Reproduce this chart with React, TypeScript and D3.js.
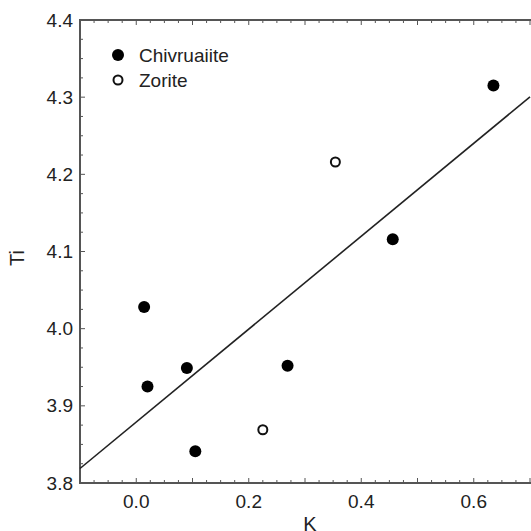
import React, { useEffect, useRef } from "react";
import * as d3 from "d3";

// Chivruaiite (filled) and Zorite (open) points
const chivK = [0.014, 0.02, 0.09, 0.105, 0.269, 0.456, 0.635];
const chivTi = [4.028, 3.925, 3.949, 3.841, 3.952, 4.116, 4.315];
const zorK = [0.225, 0.354];
const zorTi = [3.869, 4.216];

// regression line Ti = a + b*K
const fitIntercept = 3.879;
const fitSlope = 0.602;

const xTicks = [0.0, 0.2, 0.4, 0.6];
const yTicks = [3.8, 3.9, 4.0, 4.1, 4.2, 4.3, 4.4];
const legendLabels = ["Chivruaiite", "Zorite"];

function drawChart(container: SVGSVGElement) {
  var width = 531,
    height = 531;
  var left = 80,
    right = 530,
    top = 20,
    bottom = 483;
  var ink = "#222222",
    axisColor = "#555555",
    font = "'Liberation Sans', Arial, sans-serif";

  var svg = d3.select(container);
  svg.selectAll("*").remove();
  svg.attr("width", width).attr("height", height);

  var x = d3.scaleLinear().domain([-0.1, 0.7]).range([left, right]);
  var y = d3.scaleLinear().domain([3.8, 4.4]).range([bottom, top]);

  var plot = svg.append("g");

  // minor tick values every 0.025
  var xMinor = d3.range(0, 33).map((i) => -0.1 + i * 0.025);
  var yMinor = d3.range(0, 25).map((i) => 3.8 + i * 0.025);

  // bottom ticks (inward)
  plot
    .selectAll(".xb")
    .data(xMinor)
    .enter()
    .append("line")
    .attr("x1", (d) => x(d))
    .attr("x2", (d) => x(d))
    .attr("y1", bottom)
    .attr("y2", (d, i) => bottom - (i % 4 === 0 ? 5 : 3))
    .style("stroke", axisColor)
    .style("stroke-width", "1px");

  // top ticks (inward)
  plot
    .selectAll(".xt")
    .data(xMinor)
    .enter()
    .append("line")
    .attr("x1", (d) => x(d))
    .attr("x2", (d) => x(d))
    .attr("y1", top)
    .attr("y2", (d, i) => top + (i % 4 === 0 ? 5 : 3))
    .style("stroke", axisColor)
    .style("stroke-width", "1px");

  // left ticks (inward)
  plot
    .selectAll(".yl")
    .data(yMinor)
    .enter()
    .append("line")
    .attr("x1", left)
    .attr("x2", (d, i) => left + (i % 4 === 0 ? 5 : 3))
    .attr("y1", (d) => y(d))
    .attr("y2", (d) => y(d))
    .style("stroke", axisColor)
    .style("stroke-width", "1px");

  // frame (right side falls outside the window)
  plot
    .append("path")
    .attr("d", `M${right + 3},${top}H${left}V${bottom}H${right + 3}`)
    .style("fill", "none")
    .style("stroke", axisColor)
    .style("stroke-width", "2px");

  // tick labels
  svg
    .selectAll(".xl")
    .data(xTicks)
    .enter()
    .append("text")
    .attr("x", (d) => x(d))
    .attr("y", bottom + 25)
    .attr("text-anchor", "middle")
    .style("font-family", font)
    .style("font-size", "19px")
    .style("fill", ink)
    .text((d) => d3.format(".1f")(d));

  svg
    .selectAll(".yl2")
    .data(yTicks)
    .enter()
    .append("text")
    .attr("x", left - 7)
    .attr("y", (d) => y(d))
    .attr("dy", "0.35em")
    .attr("text-anchor", "end")
    .style("font-family", font)
    .style("font-size", "19px")
    .style("fill", ink)
    .text((d) => d3.format(".1f")(d));

  // axis titles
  svg
    .append("text")
    .attr("x", 310)
    .attr("y", 531)
    .attr("text-anchor", "middle")
    .style("font-family", font)
    .style("font-size", "20px")
    .style("fill", ink)
    .text("K");

  svg
    .append("text")
    .attr("transform", "translate(24,258) rotate(-90)")
    .attr("text-anchor", "middle")
    .style("font-family", font)
    .style("font-size", "20px")
    .style("fill", ink)
    .text("Ti");

  // regression line
  var lineX = [-0.1, 0.7];
  svg
    .append("path")
    .attr(
      "d",
      d3
        .line<number>()
        .x((d) => x(d))
        .y((d) => y(fitIntercept + fitSlope * d))(lineX)
    )
    .style("fill", "none")
    .style("stroke", "#222222")
    .style("stroke-width", "1.6px");

  // filled points
  svg
    .selectAll(".chiv")
    .data(chivK)
    .enter()
    .append("circle")
    .attr("cx", (d) => x(d))
    .attr("cy", (d, i) => y(chivTi[i]))
    .attr("r", 6)
    .style("fill", "#000000");

  // open points
  svg
    .selectAll(".zor")
    .data(zorK)
    .enter()
    .append("circle")
    .attr("cx", (d) => x(d))
    .attr("cy", (d, i) => y(zorTi[i]))
    .attr("r", 4.5)
    .style("fill", "#ffffff")
    .style("stroke", "#111111")
    .style("stroke-width", "2px");

  // legend
  var legend = svg.append("g").attr("transform", "translate(118,55)");
  legend.append("circle").attr("cx", 0).attr("cy", 0).attr("r", 6).style("fill", "#000000");
  legend
    .append("circle")
    .attr("cx", 0)
    .attr("cy", 25)
    .attr("r", 4.5)
    .style("fill", "#ffffff")
    .style("stroke", "#111111")
    .style("stroke-width", "2px");
  legend
    .selectAll("text")
    .data(legendLabels)
    .enter()
    .append("text")
    .attr("x", 21)
    .attr("y", (d, i) => i * 25)
    .attr("dy", "0.35em")
    .style("font-family", font)
    .style("font-size", "19px")
    .style("fill", ink)
    .text((d) => d);
}

export default function App() {
  const ref = useRef<SVGSVGElement>(null);
  useEffect(() => {
    if (ref.current) drawChart(ref.current);
  }, []);
  return (
    <svg
      ref={ref}
      style={{ position: "absolute", left: 0, top: 0, background: "#ffffff" }}
    />
  );
}
